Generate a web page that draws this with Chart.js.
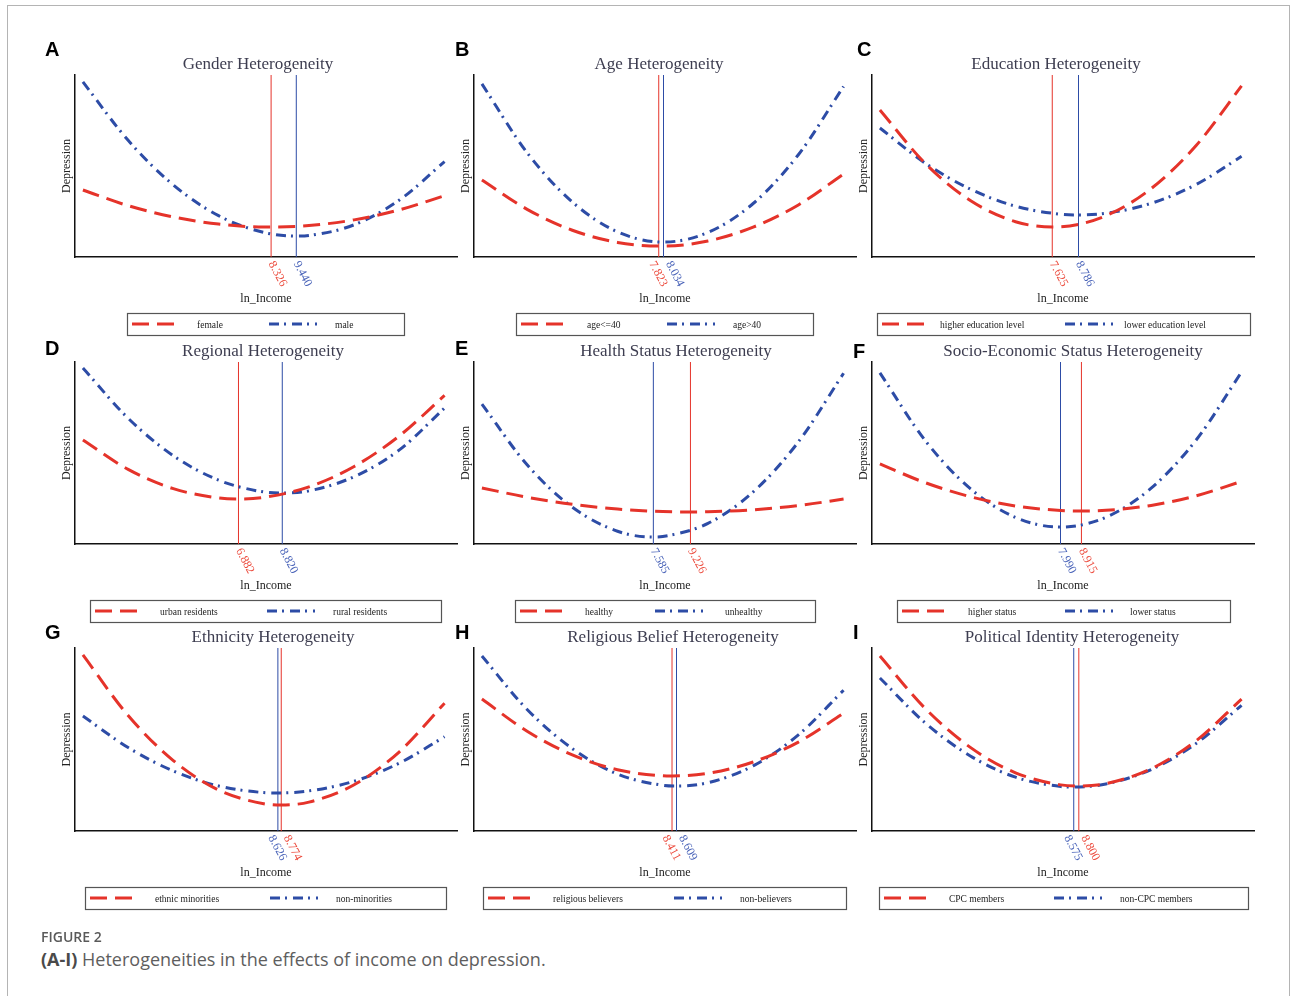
<!DOCTYPE html>
<html><head><meta charset="utf-8">
<script src="https://cdn.jsdelivr.net/npm/chart.js@4/dist/chart.umd.min.js"></script>
<style>
html,body{margin:0;padding:0;background:#fff;}
body{width:1293px;height:996px;overflow:hidden;position:relative;}
.frame{position:absolute;left:7px;top:5px;width:1283px;height:1010px;border:1px solid #b4b4b4;box-sizing:border-box;}
canvas{position:absolute;}
.letter{position:absolute;font:bold 20px "Liberation Sans",Arial,sans-serif;color:#000;line-height:20px;}
.cap1{position:absolute;left:41px;top:927px;font:600 14px "Open Sans",sans-serif;color:#5a5a5a;}
.cap2{position:absolute;left:41px;top:947px;font:400 18px "Open Sans",sans-serif;color:#5e5e5e;}
.cap2 b{font-weight:700;color:#4a4a4a;}
</style></head>
<body>
<div class="frame"></div>
<div id="root"></div>
<div class="cap1">FIGURE 2</div>
<div class="cap2"><b>(A-I)</b> Heterogeneities in the effects of income on depression.</div>
<script>
// ---------------- data ----------------
const panelLetters = ['A','B','C','D','E','F','G','H','I'];
const panelTitles = ['Gender Heterogeneity','Age Heterogeneity','Education Heterogeneity',
  'Regional Heterogeneity','Health Status Heterogeneity','Socio-Economic Status Heterogeneity',
  'Ethnicity Heterogeneity','Religious Belief Heterogeneity','Political Identity Heterogeneity'];
const redLabels = ['female','age<=40','higher education level','urban residents','healthy','higher status','ethnic minorities','religious believers','CPC members'];
const blueLabels = ['male','age>40','lower education level','rural residents','unhealthy','lower status','non-minorities','non-believers','non-CPC members'];
const incomeGrid = [0,2,4,6,8,10,12,14,16];
const redTurning  = [8.326,7.823,7.625,6.882,9.226,8.915,8.774,8.411,8.800];
const blueTurning = [9.440,8.034,8.786,8.820,7.585,7.990,8.626,8.609,8.575];
const redMinDepression  = [1.65,0.60,1.65,2.47,1.76,1.81,1.42,3.01,2.46];
const blueMinDepression = [1.15,0.82,2.31,2.80,0.38,0.93,2.08,2.46,2.40];
const redDepression = [
  [3.68,2.82,2.20,1.81,1.65,1.73,2.04,2.59,3.37],
  [4.23,2.62,1.47,0.80,0.60,0.88,1.64,2.86,4.56],
  [8.08,5.15,3.10,1.94,1.66,2.27,3.76,6.14,9.40],
  [5.71,4.10,3.04,2.53,2.56,3.14,4.26,5.94,8.16],
  [3.08,2.57,2.18,1.92,1.78,1.77,1.88,2.11,2.47],
  [4.40,3.37,2.60,2.09,1.84,1.85,2.12,2.65,3.44],
  [9.62,6.31,3.85,2.24,1.49,1.58,2.53,4.33,6.98],
  [7.21,5.45,4.16,3.35,3.02,3.15,3.77,4.86,6.43],
  [9.56,6.70,4.57,3.18,2.52,2.59,3.40,4.94,7.21]
];
const blueDepression = [
  [9.62,6.41,3.96,2.27,1.35,1.18,1.77,3.13,5.24],
  [9.51,5.73,3.02,1.38,0.82,1.35,2.94,5.62,9.37],
  [7.09,5.16,3.73,2.79,2.35,2.40,2.95,3.99,5.53],
  [9.67,6.91,4.85,3.51,2.86,2.92,3.70,5.17,7.47],
  [7.69,4.35,2.02,0.70,0.41,1.13,2.86,5.61,9.38],
  [9.40,5.69,3.04,1.46,0.93,1.47,3.07,5.73,9.45],
  [6.28,4.56,3.28,2.46,2.10,2.19,2.72,3.71,5.15],
  [9.56,6.64,4.50,3.11,2.50,2.64,3.56,5.25,7.69],
  [8.36,5.91,4.10,2.94,2.43,2.57,3.36,4.79,6.87]
];
const xRange = [-0.35, 16.55];
const yRange = [0, 10];

// ---------------- layout ----------------
const COLS = [75, 474, 872], ROWS = [75, 362, 648], PW = 382, PHS = [182, 182, 183];
const PAD = {left: 60, top: 45, right: 15, bottom: 95};
const titleX = [258, 659, 1056, 263, 676, 1073, 273, 673, 1072];
const letterPos = [[45,39],[455,39],[857,39],[45,338],[455,338],[853,341],[45,622],[455,622],[853,622]];
// legend: [boxLeft, boxWidth, blueSampleOffset, redLabelOffset, blueLabelOffset]
const legendLayout = [
  [127,277,142,70,66],[516,297,151,71,66],[877,373,188,63,59],
  [90,351,177,70,66],[515,300,140,70,70],[897,333,168,71,65],
  [85,361,185,70,66],[483,363,191,70,66],[879,369,175,70,66]
];
const RED = '#e5332a', BLUE = '#2d4ca6';
const RED_T = '#ec4a3c', BLUE_T = '#4862b8';
const RED_DASH = [17, 8], BLUE_DASH = [10, 5, 2, 6];

function curvePoints(vals, tx, ty) {
  const pts = incomeGrid.map((x, k) => ({x, y: vals[k]}));
  pts.push({x: tx, y: ty});
  pts.sort((a, b) => a.x - b.x);
  return pts;
}

function decor(i, canvasLeft) {
  return {
    id: 'decor' + i,
    afterDraw(chart) {
      const ctx = chart.ctx, ca = chart.chartArea, xs = chart.scales.x;
      ctx.save();
      // title
      ctx.font = '17px "Liberation Serif", "Times New Roman", serif';
      ctx.fillStyle = '#3d3d50';
      ctx.textAlign = 'center'; ctx.textBaseline = 'middle';
      ctx.fillText(panelTitles[i], titleX[i] - canvasLeft, ca.top - 10);
      // y title
      ctx.save();
      ctx.translate(ca.left - 8, (ca.top + ca.bottom) / 2);
      ctx.rotate(-Math.PI / 2);
      ctx.font = '12px "Liberation Serif", serif';
      ctx.fillStyle = '#222';
      ctx.fillText('Depression', 0, 0);
      ctx.restore();
      // x title
      ctx.font = '12px "Liberation Serif", serif';
      ctx.fillStyle = '#222';
      ctx.fillText('ln_Income', (ca.left + ca.right) / 2, ca.bottom + 42);
      // rotated turning-point tick labels (spread apart when close)
      const items = [[redTurning[i], RED_T], [blueTurning[i], BLUE_T]]
        .map(([v, c]) => ({v, c, px: xs.getPixelForValue(v)}))
        .sort((a, b) => a.px - b.px);
      if (items[1].px - items[0].px < 16) { items[0].shift = -7; items[1].shift = 5; }
      items.forEach(it => {
        ctx.save();
        ctx.translate(it.px + (it.shift || 0), ca.bottom + 5);
        ctx.rotate(62 * Math.PI / 180);
        ctx.font = '12px "Liberation Serif", serif';
        ctx.fillStyle = it.c;
        ctx.textAlign = 'left'; ctx.textBaseline = 'middle';
        ctx.fillText(it.v.toFixed(3), 0, 0);
        ctx.restore();
      });
      // legend box
      const [bl, bw, bo, rlo, blo] = legendLayout[i];
      const lx = bl - canvasLeft, ly = ca.bottom + 56, lh = 22, my = ly + lh / 2;
      ctx.strokeStyle = '#555'; ctx.lineWidth = 1.2; ctx.setLineDash([]);
      ctx.strokeRect(Math.round(lx) + 0.5, Math.round(ly) + 0.5, bw, lh);
      ctx.lineWidth = 3; ctx.lineCap = 'butt';
      ctx.strokeStyle = RED; ctx.setLineDash(RED_DASH);
      ctx.beginPath(); ctx.moveTo(lx + 5, my); ctx.lineTo(lx + 50, my); ctx.stroke();
      ctx.strokeStyle = BLUE; ctx.setLineDash(BLUE_DASH);
      ctx.beginPath(); ctx.moveTo(lx + bo, my); ctx.lineTo(lx + bo + 48, my); ctx.stroke();
      ctx.setLineDash([]);
      ctx.font = '9.5px "Liberation Serif", serif';
      ctx.fillStyle = '#222'; ctx.textAlign = 'left'; ctx.textBaseline = 'middle';
      ctx.fillText(redLabels[i], lx + rlo, my + 1);
      ctx.fillText(blueLabels[i], lx + bo + blo, my + 1);
      ctx.restore();
    }
  };
}

const root = document.getElementById('root');
for (let i = 0; i < 9; i++) {
  const col = i % 3, row = Math.floor(i / 3);
  const left = COLS[col] - PAD.left, top = ROWS[row] - PAD.top;
  const w = PW + PAD.left + PAD.right, h = PHS[row] + PAD.top + PAD.bottom;
  const cv = document.createElement('canvas');
  cv.width = w; cv.height = h;
  cv.style.left = left + 'px'; cv.style.top = top + 'px';
  cv.style.width = w + 'px'; cv.style.height = h + 'px';
  root.appendChild(cv);
  const lt = document.createElement('div');
  lt.className = 'letter'; lt.textContent = panelLetters[i];
  lt.style.left = letterPos[i][0] + 'px'; lt.style.top = letterPos[i][1] + 'px';
  root.appendChild(lt);

  new Chart(cv, {
    type: 'line',
    data: {
      datasets: [
        {label: redLabels[i], data: curvePoints(redDepression[i], redTurning[i], redMinDepression[i]),
         borderColor: RED, borderWidth: 3, borderDash: RED_DASH, pointRadius: 0,
         cubicInterpolationMode: 'monotone', fill: false},
        {label: blueLabels[i], data: curvePoints(blueDepression[i], blueTurning[i], blueMinDepression[i]),
         borderColor: BLUE, borderWidth: 3, borderDash: BLUE_DASH, pointRadius: 0,
         cubicInterpolationMode: 'monotone', fill: false},
        {label: 'red turning', data: [{x: redTurning[i], y: yRange[0]}, {x: redTurning[i], y: yRange[1]}],
         borderColor: RED, borderWidth: 1, pointRadius: 0, fill: false},
        {label: 'blue turning', data: [{x: blueTurning[i], y: yRange[0]}, {x: blueTurning[i], y: yRange[1]}],
         borderColor: BLUE, borderWidth: 1, pointRadius: 0, fill: false}
      ]
    },
    options: {
      responsive: false, animation: false, devicePixelRatio: 1,
      layout: {padding: PAD},
      plugins: {legend: {display: false}, tooltip: {enabled: false}, title: {display: false}},
      scales: {
        x: {type: 'linear', min: xRange[0], max: xRange[1], grid: {display: false},
            ticks: {display: false}, border: {display: true, color: '#111', width: 1.5},
            afterFit: s => { s.height = 0; }},
        y: {type: 'linear', min: yRange[0], max: yRange[1], grid: {display: false},
            ticks: {display: false}, border: {display: true, color: '#111', width: 1.5},
            afterFit: s => { s.width = 0; }}
      }
    },
    plugins: [decor(i, left)]
  });
}
</script>
</body></html>
